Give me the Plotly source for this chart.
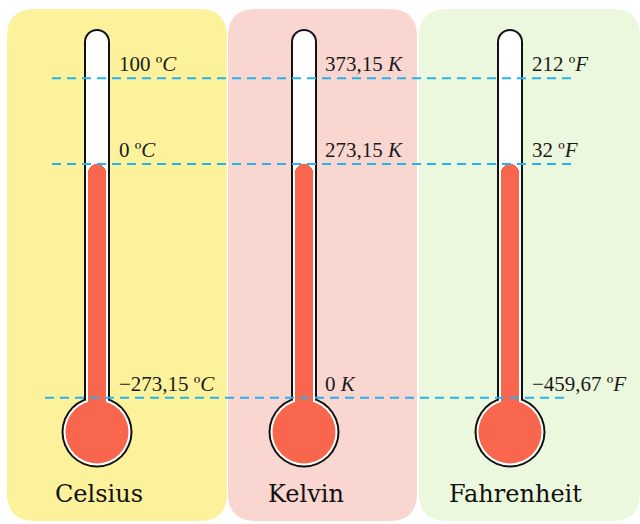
import plotly.graph_objects as go

# ---------------- data ----------------
scales = ["Celsius", "Kelvin", "Fahrenheit"]
units = ["º<i>C</i>", "<i>K</i>", "º<i>F</i>"]
boiling = [100, 373.15, 212]
freezing = [0, 273.15, 32]
abs_zero = [-273.15, 0, -459.67]
boiling_txt = ["100", "373,15", "212"]
freezing_txt = ["0", "273,15", "32"]
abs_zero_txt = ["−273,15", "0", "−459,67"]
mercury_level = [0, 273.15, 32]   # reading shown on each thermometer


def to_celsius(v, scale):
    if scale == "Kelvin":
        return v - 273.15
    if scale == "Fahrenheit":
        return (v - 32) * 5 / 9
    return v


# ---------------- layout / style ----------------
W, H = 640, 524
PX_PER_DEG = 0.856
ZERO_PX = 163.9
c_top = ZERO_PX / PX_PER_DEG
c_bot = (ZERO_PX - H) / PX_PER_DEG

centers = [97, 304, 510]
label_x = [117, 323, 530]
name_x = [99, 306, 515]
panels = [(7, 227, "#FDF29C"), (228, 417, "#FAD6D0"), (419, 640, "#ECF8DD")]
panel_top, panel_bot, rad = 9, 521, 28
RED = "#F8664D"
BLUE = "#26B2EC"

tube_top = 42
bulb_y = 432


def c_of_px(p):
    return (ZERO_PX - p) / PX_PER_DEG


shapes = []
for x0, x1, col in panels:
    y0, y1, r = panel_top, panel_bot, rad
    path = (f"M {x0+r},{y0} L {x1-r},{y0} Q {x1},{y0} {x1},{y0+r} "
            f"L {x1},{y1-r} Q {x1},{y1} {x1-r},{y1} L {x0+r},{y1} "
            f"Q {x0},{y1} {x0},{y1-r} L {x0},{y0+r} Q {x0},{y0} {x0+r},{y0} Z")
    shapes.append(dict(type="path", path=path, xref="x", yref="y2",
                       fillcolor=col, line=dict(width=0), layer="below"))


def circ(cx, cy, r, col):
    return dict(type="circle", xref="x", yref="y2", x0=cx - r, x1=cx + r,
                y0=cy - r, y1=cy + r, fillcolor=col, line=dict(width=0),
                layer="below")


def rect(x0, x1, y0, y1, col):
    return dict(type="rect", xref="x", yref="y2", x0=x0, x1=x1, y0=y0,
                y1=y1, fillcolor=col, line=dict(width=0), layer="below")


for c in centers:
    shapes.append(rect(c - 13, c + 13, tube_top, bulb_y, "#111111"))
    shapes.append(circ(c, tube_top, 13, "#111111"))
    shapes.append(circ(c, bulb_y, 35.5, "#111111"))
    shapes.append(rect(c - 11, c + 11, tube_top, bulb_y, "white"))
    shapes.append(circ(c, tube_top, 11, "white"))
    shapes.append(circ(c, bulb_y, 33.5, "white"))
    shapes.append(circ(c, bulb_y, 31.5, RED))

fig = go.Figure()

# mercury columns
merc_c = [to_celsius(v, s) for v, s in zip(mercury_level, scales)]
base_c = c_of_px(bulb_y)
fig.add_trace(go.Bar(
    x=centers, y=[m - base_c for m in merc_c], base=[base_c] * 3,
    width=18, marker=dict(color=RED, line=dict(width=0), cornerradius=9),
    yaxis="y", hoverinfo="skip"))

# reference dashed lines
line_spans = [(52, 573), (52, 573), (45, 567)]
for vals, (xa, xb) in zip([boiling, freezing, abs_zero], line_spans):
    yc = to_celsius(vals[0], scales[0])
    fig.add_trace(go.Scatter(
        x=[xa, xb], y=[yc, yc], mode="lines",
        line=dict(color=BLUE, width=2, dash="9px,6px"), yaxis="y",
        hoverinfo="skip"))

annotations = []
for i, s in enumerate(scales):
    for vals, txts in [(boiling, boiling_txt), (freezing, freezing_txt),
                       (abs_zero, abs_zero_txt)]:
        annotations.append(dict(
            x=label_x[i], y=to_celsius(vals[i], s), xref="x", yref="y",
            text=f"{txts[i]} {units[i]}", showarrow=False,
            xanchor="left", yanchor="bottom", yshift=0,
            font=dict(family="Liberation Serif", size=21, color="#1a1a1a")))
    annotations.append(dict(
        x=name_x[i], y=494, xref="x", yref="y2", text=s, showarrow=False,
        xanchor="center", yanchor="middle",
        font=dict(family="DejaVu Serif", size=24, color="#111111")))

fig.update_layout(
    width=W, height=H, margin=dict(l=0, r=0, t=0, b=0),
    paper_bgcolor="white", plot_bgcolor="white", showlegend=False,
    xaxis=dict(range=[0, W], visible=False, fixedrange=True),
    yaxis=dict(range=[c_bot, c_top], visible=False, fixedrange=True),
    yaxis2=dict(range=[H, 0], visible=False, overlaying="y",
                fixedrange=True),
    shapes=shapes, annotations=annotations, bargap=0,
)

fig.write_html("out.html", config={"displayModeBar": False},
               post_script="document.body.style.margin='0px';")
